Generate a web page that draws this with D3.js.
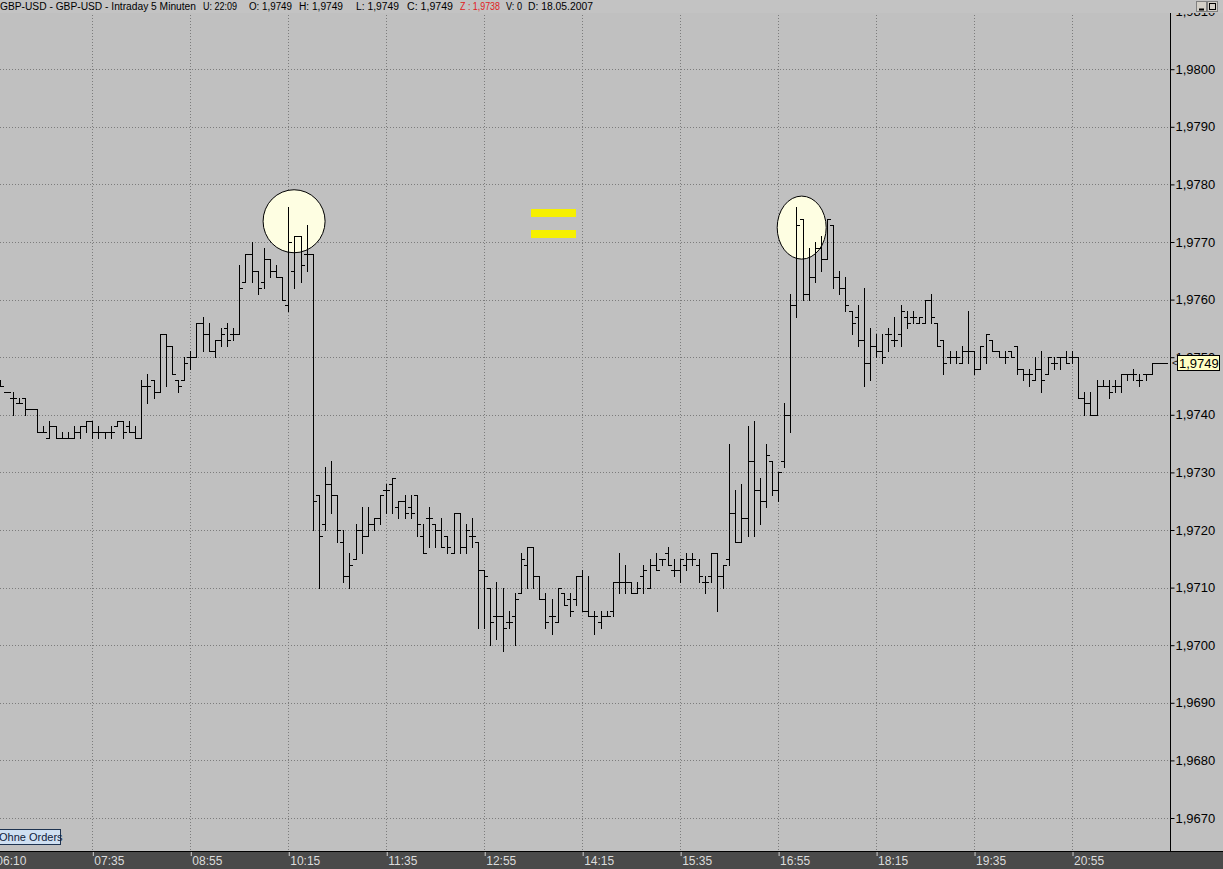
<!DOCTYPE html>
<html>
<head>
<meta charset="utf-8">
<script src="https://cdn.jsdelivr.net/npm/d3@7"></script>
<style>
  html, body { margin: 0; padding: 0; background: #c0c0c0; overflow: hidden; }
  svg { display: block; font-family: "Liberation Sans", Arial, sans-serif; }
</style>
</head>
<body>
<div id="box"></div>
<script>
// bar index 0 = 07:35, one bar every 5 minutes (GBP-USD, 18.05.2007)
const firstBar = -15
const open = [
  1.9745,1.9744,1.9743,1.9742,1.9743,1.9741,1.9741,1.9737,1.9736,1.9738,
  1.9736,1.9736,1.9736,1.9737,1.9738,1.9739,1.9737,1.9737,1.9737,1.9738,
  1.9739,1.9738,1.9737,1.9736,1.9745,1.9746,1.9744,1.9754,1.9752,1.9746,
  1.9746,1.9750,1.9750,1.9756,1.9754,1.9751,1.9753,1.9755,1.9754,1.9754,
  1.9763,1.9768,1.9765,1.9763,1.9767,1.9765,1.9764,1.9759,1.9765,1.9771,
  1.9768,1.9768,1.9726,1.9721,1.9728,1.9726,1.9718,1.9712,1.9715,1.9720,
  1.9719,1.9721,1.9722,1.9727,1.9728,1.9724,1.9725,1.9724,1.9726,1.9719,
  1.9722,1.9721,1.9720,1.9719,1.9716,1.9723,1.9717,1.9719,1.9718,1.9713,
  1.9710,1.9705,1.9705,1.9704,1.9705,1.9709,1.9714,1.9717,1.9712,1.9708,
  1.9705,1.9704,1.9709,1.9708,1.9708,1.9712,1.9706,1.9705,1.9704,1.9705,
  1.9706,1.9711,1.9711,1.9711,1.9709,1.9712,1.9710,1.9714,1.9715,1.9716,
  1.9713,1.9713,1.9714,1.9715,1.9714,1.9711,1.9712,1.9716,1.9712,1.9715,
  1.9723,1.9718,1.9722,1.9732,1.9727,1.9725,1.9732,1.9727,1.9732,1.9740,
  1.9759,1.9774,1.9761,1.9764,1.9769,1.9767,1.9773,1.9764,1.9762,1.9758,
  1.9757,1.9753,1.9749,1.9752,1.9751,1.9754,1.9753,1.9754,1.9757,1.9757,
  1.9756,1.9756,1.9760,1.9756,1.9753,1.9750,1.9750,1.9749,1.9751,1.9751,
  1.9748,1.9750,1.9753,1.9751,1.9750,1.9751,1.9752,1.9748,1.9747,1.9746,
  1.9748,1.9747,1.9749,1.9750,1.9750,1.9750,1.9750,1.9743,1.9742,1.9740,
  1.9745,1.9745,1.9745,1.9745,1.9747,1.9747,1.9746,1.9747,1.9747,1.9749,
  1.9749
]
const high = [
  1.9746,1.9744,1.9744,1.9743,1.9743,1.9741,1.9741,1.9738,1.9739,1.9738,
  1.9737,1.9737,1.9738,1.9738,1.9739,1.9739,1.9738,1.9737,1.9738,1.9739,
  1.9739,1.9739,1.9738,1.9746,1.9747,1.9746,1.9754,1.9754,1.9752,1.9746,
  1.9750,1.9751,1.9756,1.9757,1.9756,1.9753,1.9755,1.9756,1.9755,1.9766,
  1.9768,1.9770,1.9765,1.9769,1.9767,1.9766,1.9764,1.9776,1.9771,1.9771,
  1.9773,1.9768,1.9726,1.9731,1.9732,1.9726,1.9720,1.9716,1.9721,1.9724,
  1.9724,1.9722,1.9726,1.9728,1.9729,1.9725,1.9726,1.9726,1.9726,1.9721,
  1.9724,1.9721,1.9722,1.9719,1.9723,1.9723,1.9721,1.9722,1.9718,1.9713,
  1.9710,1.9711,1.9710,1.9706,1.9709,1.9716,1.9717,1.9717,1.9712,1.9709,
  1.9708,1.9710,1.9709,1.9709,1.9712,1.9713,1.9712,1.9706,1.9706,1.9706,
  1.9711,1.9716,1.9714,1.9711,1.9711,1.9714,1.9715,1.9716,1.9715,1.9717,
  1.9715,1.9715,1.9716,1.9716,1.9715,1.9712,1.9716,1.9716,1.9714,1.9735,
  1.9727,1.9728,1.9738,1.9739,1.9729,1.9735,1.9732,1.9730,1.9742,1.9761,
  1.9776,1.9774,1.9769,1.9770,1.9771,1.9774,1.9773,1.9765,1.9764,1.9758,
  1.9759,1.9762,1.9755,1.9754,1.9754,1.9755,1.9757,1.9759,1.9758,1.9758,
  1.9757,1.9760,1.9761,1.9756,1.9753,1.9751,1.9751,1.9752,1.9758,1.9751,
  1.9752,1.9754,1.9753,1.9751,1.9751,1.9751,1.9752,1.9748,1.9748,1.9750,
  1.9751,1.9750,1.9750,1.9750,1.9751,1.9751,1.9750,1.9744,1.9744,1.9746,
  1.9746,1.9746,1.9746,1.9747,1.9747,1.9748,1.9747,1.9747,1.9749,1.9749,
  1.9749
]
const low = [
  1.9745,1.9744,1.9740,1.9742,1.9740,1.9741,1.9737,1.9737,1.9736,1.9736,
  1.9736,1.9736,1.9736,1.9736,1.9737,1.9736,1.9736,1.9736,1.9736,1.9738,
  1.9736,1.9737,1.9736,1.9736,1.9742,1.9743,1.9744,1.9745,1.9747,1.9744,
  1.9746,1.9748,1.9750,1.9751,1.9751,1.9750,1.9752,1.9752,1.9753,1.9754,
  1.9763,1.9763,1.9761,1.9762,1.9764,1.9764,1.9760,1.9758,1.9762,1.9763,
  1.9765,1.9720,1.9710,1.9720,1.9723,1.9718,1.9711,1.9710,1.9715,1.9716,
  1.9719,1.9720,1.9721,1.9723,1.9723,1.9722,1.9722,1.9722,1.9719,1.9716,
  1.9717,1.9717,1.9717,1.9716,1.9716,1.9716,1.9716,1.9717,1.9703,1.9703,
  1.9700,1.9701,1.9699,1.9703,1.9700,1.9709,1.9710,1.9710,1.9708,1.9703,
  1.9702,1.9704,1.9707,1.9705,1.9707,1.9706,1.9705,1.9702,1.9703,1.9705,
  1.9705,1.9709,1.9709,1.9709,1.9709,1.9709,1.9710,1.9713,1.9714,1.9714,
  1.9712,1.9711,1.9713,1.9714,1.9711,1.9709,1.9711,1.9706,1.9710,1.9714,
  1.9718,1.9718,1.9719,1.9719,1.9721,1.9724,1.9726,1.9725,1.9731,1.9737,
  1.9757,1.9760,1.9760,1.9763,1.9765,1.9767,1.9762,1.9761,1.9758,1.9754,
  1.9752,1.9745,1.9746,1.9750,1.9749,1.9751,1.9752,1.9752,1.9755,1.9756,
  1.9756,1.9756,1.9756,1.9752,1.9747,1.9749,1.9749,1.9749,1.9749,1.9747,
  1.9748,1.9749,1.9751,1.9750,1.9749,1.9750,1.9747,1.9746,1.9745,1.9746,
  1.9744,1.9747,1.9748,1.9748,1.9749,1.9749,1.9743,1.9740,1.9740,1.9740,
  1.9745,1.9743,1.9744,1.9744,1.9746,1.9746,1.9745,1.9746,1.9747,1.9749,
  1.9749
]
const close = [
  1.9745,1.9744,1.9743,1.9742,1.9741,1.9741,1.9737,1.9737,1.9738,1.9736,
  1.9736,1.9736,1.9737,1.9738,1.9739,1.9737,1.9737,1.9737,1.9737,1.9739,
  1.9737,1.9737,1.9736,1.9745,1.9745,1.9744,1.9754,1.9752,1.9747,1.9745,
  1.9749,1.9750,1.9756,1.9754,1.9751,1.9753,1.9754,1.9753,1.9754,1.9762,
  1.9768,1.9765,1.9762,1.9767,1.9765,1.9764,1.9760,1.9770,1.9771,1.9766,
  1.9768,1.9725,1.9719,1.9728,1.9726,1.9720,1.9712,1.9714,1.9720,1.9719,
  1.9721,1.9722,1.9726,1.9727,1.9729,1.9725,1.9723,1.9723,1.9721,1.9716,
  1.9722,1.9720,1.9717,1.9717,1.9723,1.9717,1.9720,1.9719,1.9713,1.9712,
  1.9704,1.9705,1.9703,1.9704,1.9708,1.9715,1.9717,1.9712,1.9708,1.9704,
  1.9705,1.9710,1.9707,1.9706,1.9712,1.9706,1.9705,1.9705,1.9705,1.9705,
  1.9711,1.9711,1.9711,1.9709,1.9710,1.9713,1.9714,1.9713,1.9715,1.9714,
  1.9713,1.9715,1.9715,1.9715,1.9712,1.9711,1.9716,1.9712,1.9714,1.9723,
  1.9718,1.9722,1.9732,1.9727,1.9725,1.9733,1.9727,1.9730,1.9740,1.9759,
  1.9773,1.9761,1.9764,1.9769,1.9767,1.9774,1.9764,1.9762,1.9759,1.9756,
  1.9753,1.9749,1.9752,1.9751,1.9750,1.9754,1.9753,1.9758,1.9756,1.9757,
  1.9757,1.9760,1.9757,1.9752,1.9749,1.9750,1.9750,1.9751,1.9751,1.9748,
  1.9752,1.9754,1.9751,1.9750,1.9750,1.9750,1.9748,1.9747,1.9747,1.9748,
  1.9746,1.9750,1.9749,1.9750,1.9749,1.9750,1.9743,1.9742,1.9740,1.9745,
  1.9745,1.9744,1.9745,1.9747,1.9747,1.9747,1.9746,1.9747,1.9749,1.9749,
  1.9749
]
const timeLabels = ["06:10","07:35","08:55","10:15","11:35","12:55","14:15","15:35","16:55","18:15","19:35","20:55"]
const timeTickBars = [-16, 0, 16, 32, 48, 64, 80, 96, 112, 128, 144, 160]
const priceTicks = [1.967,1.968,1.969,1.970,1.971,1.972,1.973,1.974,1.975,1.976,1.977,1.978,1.979,1.980,1.981]
const lastPrice = 1.9749
const headerParts = [
  ["GBP-USD - GBP-USD - Intraday 5 Minuten", 0, 196, "#000"],
  ["U: 22:09", 203, 34, "#000"],
  ["O: 1,9749", 249, 43, "#000"],
  ["H: 1,9749", 299, 44, "#000"],
  ["L: 1,9749", 356, 43, "#000"],
  ["C: 1,9749", 407, 46, "#000"],
  ["Z : 1,9738", 460, 40, "#e02020"],
  ["V: 0", 506, 16, "#000"],
  ["D: 18.05.2007", 528, 65, "#000"]
]

const width = 1223
const height = 869
const plotRight = 1170
const axisTop = 852

const bars = open.map((o, i) => ({ k: firstBar + i, o: o, h: high[i], l: low[i], c: close[i] }))

const x = d3.scaleLinear().domain([-16, 176]).range([-5.65, plotRight])
const y = d3.scaleLinear().domain([1.967, 1.980]).range([818, 69.2])
const fmt = v => d3.format(".4f")(v).replace(".", ",")
const px = v => Math.round(v) + 0.5

const svg = d3.select('#box').append('svg')
  .attr('width', width)
  .attr('height', height)

svg.append('rect').attr('width', width).attr('height', height).attr('fill', '#c0c0c0')

// dotted grid
svg.append('g')
  .selectAll('line')
  .data(priceTicks)
  .enter()
  .append('line')
  .attr('x1', 0).attr('x2', plotRight)
  .attr('y1', d => px(y(d))).attr('y2', d => px(y(d)))
  .attr('stroke', '#7c7c7c')
  .attr('stroke-dasharray', '1,2')

svg.append('g')
  .selectAll('line')
  .data(timeTickBars)
  .enter()
  .append('line')
  .attr('x1', d => px(x(d))).attr('x2', d => px(x(d)))
  .attr('y1', 0).attr('y2', axisTop)
  .attr('stroke', '#7c7c7c')
  .attr('stroke-dasharray', '1,2')

// highlight ellipses
const marks = [
  { k: 32.95, p: 1.97736, rx: 31, ry: 31.5 },
  { k: 115.85, p: 1.97725, rx: 24.5, ry: 31.5 }
]
svg.append('g')
  .selectAll('ellipse')
  .data(marks)
  .enter()
  .append('ellipse')
  .attr('cx', d => x(d.k))
  .attr('cy', d => y(d.p))
  .attr('rx', d => d.rx)
  .attr('ry', d => d.ry)
  .attr('fill', '#fefee2')
  .attr('stroke', '#000')
  .attr('stroke-width', 1)

// OHLC bars
svg.append('g')
  .attr('shape-rendering', 'crispEdges')
  .selectAll('path')
  .data(bars)
  .enter()
  .append('path')
  .attr('d', d => {
    const cx = px(x(d.k))
    const yh = Math.round(y(d.h)), yl = Math.round(y(d.l)) + 1
    const yo = px(y(d.o)), yc = px(y(d.c))
    return `M${cx},${yh}V${yl}M${cx - 3.5},${yo}H${cx}M${cx},${yc}H${cx + 3.5}`
  })
  .attr('fill', 'none')
  .attr('stroke', '#000')
  .attr('stroke-width', 1)

// yellow "=" sign
svg.append('g')
  .selectAll('rect')
  .data([209, 230])
  .enter()
  .append('rect')
  .attr('x', 531).attr('y', d => d)
  .attr('width', 45).attr('height', 8)
  .attr('fill', '#f6f000')

// right price axis
const yAxis = d3.axisRight(y).tickValues(priceTicks).tickSize(4).tickFormat(fmt)
const ga = svg.append('g')
  .attr('transform', `translate(${plotRight + 0.5},0)`)
  .call(yAxis)
ga.select('.domain').remove()
ga.selectAll('line').attr('stroke', '#000')
ga.selectAll('text')
  .attr('x', 5)
  .attr('fill', '#000')
  .style('font-size', '13px')
  .style('font-family', '"Liberation Sans", Arial, sans-serif')
svg.append('line')
  .attr('x1', plotRight + 0.5).attr('x2', plotRight + 0.5)
  .attr('y1', 13).attr('y2', axisTop)
  .attr('stroke', '#000')

// last price marker
svg.append('text')
  .attr('x', plotRight + 2).attr('y', y(lastPrice) + 3)
  .style('font-size', '9px')
  .text('<')
svg.append('rect')
  .attr('x', 1177.5).attr('y', Math.round(y(lastPrice)) - 7.5)
  .attr('width', 42).attr('height', 15)
  .attr('fill', '#ffffc4')
  .attr('stroke', '#000')
svg.append('text')
  .attr('x', 1179).attr('y', y(lastPrice) + 5)
  .style('font-size', '13px')
  .text(fmt(lastPrice))

// time axis band
svg.append('rect')
  .attr('x', 0).attr('y', axisTop)
  .attr('width', width).attr('height', height - axisTop)
  .attr('fill', '#4a4a4a')
svg.append('line')
  .attr('x1', 0).attr('x2', width)
  .attr('y1', axisTop - 0.5).attr('y2', axisTop - 0.5)
  .attr('stroke', '#000')

const xAxis = d3.axisBottom(x)
  .tickValues(timeTickBars)
  .tickSize(4)
  .tickFormat((d, i) => timeLabels[i])
const gx = svg.append('g')
  .attr('transform', `translate(0.5,${axisTop})`)
  .call(xAxis)
gx.select('.domain').remove()
gx.selectAll('line').attr('stroke', '#d0d0d0')
gx.selectAll('text')
  .attr('text-anchor', 'start')
  .attr('x', 1)
  .attr('y', 4)
  .attr('fill', '#dcdcdc')
  .style('font-size', '12px')
  .style('font-family', '"Liberation Sans", Arial, sans-serif')

// "Ohne Orders" button
svg.append('rect')
  .attr('x', -1.5).attr('y', 829.5)
  .attr('width', 62).attr('height', 15)
  .attr('fill', '#cfe0f2')
  .attr('stroke', '#1e3350')
svg.append('text')
  .attr('x', -1).attr('y', 841)
  .attr('fill', '#10203a')
  .style('font-size', '11px')
  .text('Ohne Orders')

// header bar
svg.append('rect')
  .attr('width', width).attr('height', 13)
  .attr('fill', '#c3c3c3')
svg.append('g')
  .selectAll('text')
  .data(headerParts)
  .enter()
  .append('text')
  .attr('x', d => d[1])
  .attr('y', 10)
  .attr('textLength', d => d[2])
  .attr('lengthAdjust', 'spacingAndGlyphs')
  .attr('fill', d => d[3])
  .style('font-size', '10px')
  .text(d => d[0])

// window buttons
const btn = svg.append('g')
btn.selectAll('rect')
  .data([1196.5, 1207.5])
  .enter()
  .append('rect')
  .attr('x', d => d).attr('y', 1.5)
  .attr('width', 10).attr('height', 10)
  .attr('fill', '#d4d0c8')
  .attr('stroke', '#808080')
btn.append('line')
  .attr('x1', 1199).attr('x2', 1204).attr('y1', 9.5).attr('y2', 9.5)
  .attr('stroke', '#000').attr('stroke-width', 2)
btn.append('rect')
  .attr('x', 1209.5).attr('y', 3.5).attr('width', 6).attr('height', 6)
  .attr('fill', 'none').attr('stroke', '#000')
</script>
</body>
</html>
